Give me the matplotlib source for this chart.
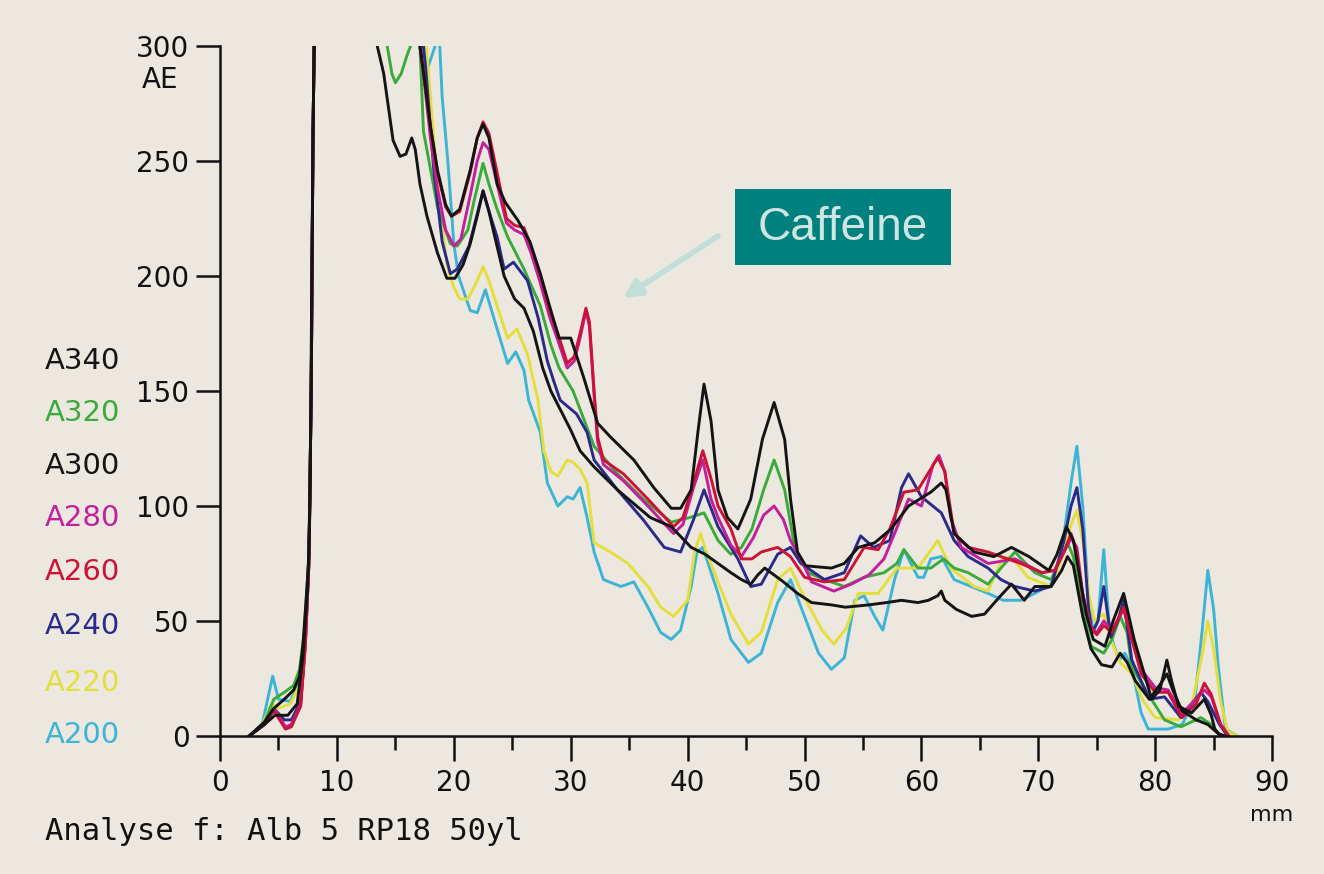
import matplotlib.pyplot as plt

# Densitogram traces, position in mm and signal in AE (values above 300 run off the plot)
a200_mm = [2.5, 3.6, 4.5, 5.0, 6.0, 6.8, 7.2, 7.6, 7.8, 7.95, 8.1,
           17.0, 17.3, 17.8, 18.4, 18.7, 19.0, 19.5, 20.0, 20.4, 21.4, 22.0, 22.7, 23.7,
           24.6, 25.3, 26.0, 26.4, 27.4, 28.0, 28.9, 29.7, 30.2, 30.8, 31.4, 32.0, 32.8,
           34.3, 35.4, 36.6, 37.7, 38.6, 39.4, 40.3, 40.8, 41.3, 42.6, 43.7, 45.2, 46.3,
           47.7, 48.8, 50.0, 51.2, 52.3, 53.4, 54.3, 55.1, 56.0, 56.7, 57.7, 58.5, 59.7,
           60.2, 60.8, 61.7, 62.8, 65.7, 67.0, 68.5, 69.7, 71.1, 72.0, 72.8, 73.3, 73.8,
           74.3, 74.7, 75.1, 75.6, 76.1, 76.9, 77.4, 78.0, 78.8, 79.4, 81.1, 82.3, 83.4,
           84.0, 84.5, 85.0, 85.4, 86.0, 87.0]
a200_ae = [0, 5, 26, 16, 15, 24, 40, 75, 150, 260, 320,
           310, 298, 291, 300, 310, 278, 249, 214, 200, 185, 184, 194, 177,
           162, 167, 159, 146, 132, 110, 100, 104, 103, 108, 95, 80, 68,
           65, 67, 56, 45, 42, 46, 65, 80, 82, 62, 42, 32, 36,
           58, 68, 52, 36, 29, 34, 59, 61, 52, 46, 68, 81, 69,
           69, 77, 78, 68, 62, 59, 59, 62, 66, 80, 110, 126, 100,
           59, 45, 50, 81, 45, 33, 36, 30, 10, 3, 3, 5, 16,
           45, 72, 55, 30, 3, 0]

a220_mm = [2.5, 3.6, 4.4, 5.0, 6.0, 6.8, 7.2, 7.6, 7.8, 7.95, 8.1,
           17.3, 17.8, 18.6, 19.4, 20.0, 20.5, 21.2, 22.0, 22.5, 23.0, 23.7, 24.6, 25.4,
           26.3, 27.2, 27.7, 28.3, 28.9, 29.7, 30.2, 30.8, 31.4, 32.0, 33.4, 34.9, 36.6,
           37.7, 38.8, 40.0, 40.6, 41.1, 41.6, 42.6, 43.7, 45.2, 46.3, 47.7, 48.8, 50.0,
           51.5, 52.5, 53.6, 54.6, 56.3, 57.9, 59.7, 61.4, 62.5, 64.5, 65.7, 66.9, 67.7,
           69.1, 71.1, 72.2, 72.8, 73.3, 73.8, 74.3, 74.8, 75.6, 76.2, 77.0, 78.0, 79.0,
           80.0, 82.0, 83.2, 84.0, 84.5, 85.0, 85.6, 86.2, 87.0]
a220_ae = [0, 5, 14, 12, 14, 22, 40, 75, 150, 260, 320,
           320, 290, 240, 205, 195, 190, 190, 198, 204, 198, 187, 173, 177,
           166, 146, 124, 115, 113, 120, 119, 116, 110, 84, 80, 75, 65,
           56, 52, 59, 80, 88, 80, 67, 53, 40, 45, 68, 73, 60,
           46, 40, 47, 62, 62, 73, 73, 85, 73, 65, 63, 77, 78,
           69, 65, 80, 92, 98, 85, 62, 50, 53, 42, 32, 27, 15,
           8, 7, 15, 35, 50, 38, 15, 2, 0]

a240_mm = [2.5, 3.8, 4.6, 5.5, 6.1, 6.9, 7.3, 7.6, 7.8, 7.95, 8.1,
           17.0, 17.6, 18.3, 19.0, 19.7, 20.3, 21.3, 22.5, 23.2, 23.7, 24.3, 25.1, 26.3,
           27.2, 28.0, 28.5, 29.1, 30.5, 31.4, 32.0, 34.0, 36.2, 38.0, 39.4, 40.5, 41.4,
           42.6, 44.3, 45.4, 46.3, 47.7, 48.8, 49.7, 51.7, 53.4, 54.8, 55.9, 57.3, 58.3,
           58.9, 60.0, 61.7, 62.8, 64.0, 65.7, 66.8, 68.0, 69.7, 71.1, 72.2, 72.8, 73.3,
           73.8, 74.3, 74.6, 75.1, 75.6, 76.2, 76.8, 77.3, 78.0, 79.5, 80.8, 82.2, 83.9,
           84.5, 85.5, 86.2]
a240_ae = [0, 6, 12, 7, 7, 15, 40, 75, 150, 260, 320,
           320, 290, 245, 215, 201, 203, 213, 237, 225, 217, 203, 206, 198,
           182, 163, 155, 146, 140, 132, 120, 107, 94, 82, 80, 94, 107,
           91, 77, 65, 66, 79, 82, 75, 68, 71, 87, 82, 85, 108,
           114, 104, 97, 85, 78, 73, 68, 65, 63, 65, 85, 100, 108,
           90, 55, 45, 50, 65, 43, 50, 59, 33, 16, 17, 8, 19,
           15, 5, 0]

a260_mm = [2.5, 3.8, 4.6, 5.6, 6.1, 6.9, 7.3, 7.6, 7.8, 7.95, 8.1,
           16.9, 17.1, 17.5, 18.0, 18.6, 19.3, 19.8, 20.5, 21.4, 22.0, 22.5, 23.0, 23.7,
           24.5, 25.2, 26.0, 26.6, 27.4, 28.2, 28.9, 29.7, 30.3, 30.8, 31.3, 31.6, 32.0,
           32.3, 32.8, 34.5, 36.6, 38.8, 39.6, 40.5, 41.3, 42.0, 42.6, 43.7, 44.6, 45.5,
           46.3, 47.7, 48.8, 50.0, 51.7, 53.4, 55.1, 56.3, 57.3, 58.5, 59.7, 61.4, 62.0,
           62.8, 64.0, 65.7, 66.8, 68.5, 70.3, 71.4, 72.2, 72.8, 73.3, 73.8, 74.5, 75.0,
           75.6, 76.3, 77.3, 78.0, 78.8, 80.0, 81.1, 82.3, 83.5, 84.2, 84.8, 85.6, 86.3]
a260_ae = [0, 5, 11, 3, 4, 13, 40, 75, 150, 260, 320,
           320, 300, 285, 265, 245, 230, 226, 228, 245, 260, 267, 262, 245,
           225, 222, 221, 213, 200, 185, 175, 162, 165, 175, 186, 180, 150,
           130, 120, 114, 103, 91, 95, 110, 124, 112, 100, 90, 77, 77,
           80, 82, 78, 69, 67, 68, 82, 81, 90, 106, 107, 121, 115,
           88, 82, 80, 78, 75, 71, 72, 80, 88, 80, 60, 47, 44,
           48, 45, 56, 42, 27, 19, 19, 8, 14, 23, 18, 5, 0]

a280_mm = [2.5, 3.8, 4.6, 5.6, 6.1, 6.9, 7.3, 7.6, 7.8, 7.95, 8.1,
           16.9, 17.1, 17.5, 18.0, 18.6, 19.3, 20.0, 20.6, 21.4, 22.0, 22.5, 23.0, 23.7,
           24.5, 25.2, 26.0, 26.6, 27.4, 28.2, 28.9, 29.7, 30.3, 30.8, 31.3, 31.6, 32.0,
           32.3, 32.8, 34.5, 36.6, 38.8, 39.6, 40.5, 41.3, 42.0, 42.6, 43.7, 44.6, 45.6,
           46.5, 47.4, 48.2, 48.8, 49.7, 50.6, 52.5, 54.0, 55.5, 56.8, 57.7, 58.9, 60.0,
           61.0, 61.5, 62.0, 62.5, 63.4, 65.7, 68.0, 70.3, 71.4, 72.2, 72.8, 73.3, 73.8,
           74.5, 75.0, 75.6, 76.3, 77.3, 78.0, 78.8, 80.0, 81.1, 82.3, 83.5, 84.2, 84.8,
           85.6, 86.3]
a280_ae = [0, 5, 12, 4, 5, 14, 40, 75, 150, 260, 320,
           320, 300, 283, 260, 238, 220, 213, 216, 235, 250, 258, 255, 240,
           223, 220, 218, 210, 197, 182, 172, 160, 163, 173, 185, 178, 148,
           128, 118, 111, 100, 88, 92, 108, 120, 103, 95, 83, 78, 86,
           96, 100, 94, 85, 77, 67, 63, 66, 70, 77, 88, 103, 100,
           118, 122, 115, 95, 82, 75, 77, 71, 72, 80, 86, 82, 62,
           47, 45, 50, 46, 55, 42, 29, 21, 20, 10, 16, 20, 17,
           5, 0]

a300_mm = [2.5, 3.8, 4.7, 5.8, 6.6, 7.1, 7.5, 7.7, 7.85, 7.95, 8.1,
           16.9, 17.1, 17.5, 18.0, 18.6, 19.3, 19.8, 20.5, 21.4, 22.0, 22.5, 23.0, 23.7,
           24.4, 25.5, 26.5, 27.4, 28.3, 29.0, 30.0, 31.1, 32.3, 33.4, 35.4, 37.1, 38.6,
           39.4, 40.3, 40.9, 41.4, 42.0, 42.6, 43.4, 44.3, 45.4, 46.4, 47.4, 48.3, 48.8,
           49.4, 50.1, 52.3, 53.4, 54.6, 56.0, 57.4, 58.9, 60.8, 61.7, 62.1, 62.8, 64.5,
           66.2, 67.7, 69.2, 70.9, 71.6, 72.4, 73.0, 74.1, 74.7, 75.7, 76.4, 77.3, 78.2,
           79.7, 80.4, 81.0, 81.4, 82.0, 83.1, 84.2, 84.8, 85.1, 85.6]
a300_ae = [0, 5, 9, 9, 14, 35, 65, 100, 200, 260, 320,
           320, 300, 285, 265, 246, 231, 226, 229, 246, 260, 266, 260, 240,
           232, 224, 215, 201, 185, 173, 173, 156, 136, 130, 120, 108, 99,
           99, 107, 133, 153, 137, 107, 95, 90, 103, 129, 145, 129, 103,
           80, 74, 73, 75, 82, 84, 90, 100, 106, 110, 107, 88, 80,
           78, 82, 78, 72, 79, 91, 85, 53, 42, 39, 50, 62, 42,
           16, 20, 33, 24, 13, 10, 16, 9, 3, 0]

a320_mm = [2.5, 3.8, 4.6, 5.5, 6.3, 6.8, 7.2, 7.6, 7.8, 7.95, 8.1,
           14.0, 14.3, 14.7, 15.0, 15.5, 16.0, 16.3, 16.5, 16.9, 17.1, 17.4, 18.6, 19.7,
           20.3, 21.2, 21.7, 22.5, 23.0, 23.7, 24.6, 26.0, 27.4, 28.3, 29.0, 30.2, 31.4,
           32.0, 34.0, 36.2, 38.6, 40.2, 41.4, 42.6, 43.7, 44.6, 45.5, 46.5, 47.4, 48.3,
           49.2, 50.3, 51.7, 53.4, 55.1, 56.8, 57.9, 58.5, 59.7, 60.8, 61.9, 62.8, 64.0,
           65.7, 66.8, 68.0, 69.7, 71.1, 72.0, 72.5, 73.0, 73.8, 74.5, 75.6, 76.3, 77.0,
           77.6, 78.0, 79.3, 80.8, 82.2, 83.9, 84.8, 85.6]
a320_ae = [0, 6, 16, 19, 22, 29, 45, 78, 150, 260, 320,
           320, 300, 288, 284, 288, 296, 300, 320, 320, 300, 263, 230, 214,
           213, 220, 232, 249, 240, 229, 217, 203, 187, 170, 160, 150, 134,
           126, 114, 103, 93, 95, 97, 85, 79, 82, 90, 107, 120, 107,
           81, 71, 68, 65, 69, 71, 75, 81, 73, 73, 77, 73, 71,
           66, 73, 80, 71, 68, 78, 84, 78, 55, 39, 36, 42, 52,
           45, 30, 19, 7, 4, 8, 5, 0]

a340_mm = [2.5, 3.8, 4.6, 5.5, 6.3, 6.8, 7.1, 7.4, 7.6, 7.8, 7.95, 8.1,
           13.3, 13.45, 14.0, 14.8, 15.4, 15.9, 16.4, 16.7, 17.1, 17.7, 18.6, 19.4, 20.1,
           20.8, 21.4, 22.0, 22.5, 23.0, 23.6, 24.3, 25.2, 26.0, 26.8, 27.6, 28.3, 29.1,
           30.0, 30.8, 32.0, 34.0, 36.8, 38.6, 40.3, 41.5, 42.6, 43.7, 44.6, 45.4, 46.0,
           46.6, 47.4, 48.2, 49.4, 50.6, 52.3, 53.5, 55.5, 57.0, 58.3, 59.7, 60.6, 61.4,
           61.7, 62.0, 63.0, 64.3, 65.4, 66.6, 67.7, 68.8, 69.7, 71.1, 72.0, 72.5, 73.0,
           73.8, 74.5, 75.4, 76.3, 77.0, 77.6, 78.3, 79.5, 80.5, 81.0, 81.5, 82.3, 83.5,
           84.5, 85.4, 86.0]
a340_ae = [0, 6, 12, 16, 20, 26, 40, 62, 78, 150, 260, 320,
           320, 300, 288, 259, 252, 253, 260, 255, 240, 226, 210, 199, 199,
           205, 214, 226, 237, 228, 215, 200, 190, 186, 176, 160, 150, 142,
           133, 124, 117, 107, 95, 91, 82, 79, 75, 71, 68, 66, 70,
           73, 70, 67, 62, 58, 57, 56, 57, 58, 59, 58, 59, 61,
           63, 59, 55, 52, 53, 60, 66, 59, 65, 65, 72, 78, 74,
           52, 38, 31, 30, 36, 32, 24, 16, 23, 27, 20, 11, 7,
           5, 1, 0]

trace_labels = ["A340", "A320", "A300", "A280", "A260", "A240", "A220", "A200"]
trace_colors = ["#141414", "#3aaa3a", "#141414", "#c21f9c", "#cc1236", "#2a2a8a", "#e4de3c", "#3cb4d6"]

x_ticks = [0, 10, 20, 30, 40, 50, 60, 70, 80, 90]
y_ticks = [0, 50, 100, 150, 200, 250, 300]

bg = "#ece8df"
fig = plt.figure(figsize=(13.24, 8.74), dpi=100, facecolor=bg)
ax = fig.add_axes([0.1662, 0.1579, 0.7946, 0.7895], facecolor=bg)

series = {
    "A200": (a200_mm, a200_ae),
    "A220": (a220_mm, a220_ae),
    "A320": (a320_mm, a320_ae),
    "A240": (a240_mm, a240_ae),
    "A280": (a280_mm, a280_ae),
    "A260": (a260_mm, a260_ae),
    "A340": (a340_mm, a340_ae),
    "A300": (a300_mm, a300_ae),
}
color_of = dict(zip(trace_labels, trace_colors))
for name, (xs, ys) in series.items():
    ax.plot(xs, ys, color=color_of[name], lw=2.1, solid_joinstyle="round")

ax.set_xlim(0, 90)
ax.set_ylim(0, 300)
for s in ["top", "right"]:
    ax.spines[s].set_visible(False)
for s in ["left", "bottom"]:
    ax.spines[s].set_linewidth(1.8)
    ax.spines[s].set_color("#111111")

ax.set_xticks(x_ticks)
ax.set_xticks([5, 15, 25, 35, 45, 55, 65, 75, 85], minor=True)
ax.set_yticks(y_ticks)
ax.tick_params(axis="x", which="major", direction="out", length=18, width=1.8,
               labelsize=20, pad=6, colors="#111111")
ax.tick_params(axis="x", which="minor", direction="out", length=10, width=1.8, colors="#111111")
ax.tick_params(axis="y", direction="out", length=17, width=1.8, labelsize=20, pad=5,
               colors="#111111")

fig.text(160 / 1324, 1 - 80 / 874, "AE", fontsize=20, ha="center", va="center", color="#111111")
fig.text(1272 / 1324, 1 - 815 / 874, "mm", fontsize=16, ha="center", va="center", color="#111111")
fig.text(45 / 1324, 1 - 832 / 874, "Analyse f: Alb 5 RP18 50yl", fontsize=22,
         family="DejaVu Sans Mono", ha="left", va="center", color="#111111")

label_y = [361, 413, 466, 518, 572, 626, 683, 735]
for lab, col, py in zip(trace_labels, trace_colors, label_y):
    fig.text(45 / 1324, 1 - py / 874, lab, fontsize=21, ha="left", va="center", color=col)

# Caffeine call-out
box = plt.Rectangle((735 / 1324, 1 - 265 / 874), 216 / 1324, 76 / 874,
                    transform=fig.transFigure, facecolor="#00807e", edgecolor="none")
fig.patches.append(box)
fig.text(843 / 1324, 1 - 228 / 874, "Caffeine", fontsize=33, family="Liberation Sans",
         color="#cfe5e0", ha="center", va="center")
ax.annotate("", xy=(623 / 1324, 1 - 298 / 874), xytext=(718 / 1324, 1 - 236 / 874),
            xycoords="figure fraction", textcoords="figure fraction",
            arrowprops=dict(arrowstyle="-|>", color="#c2ded9", lw=4, mutation_scale=26,
                            shrinkA=0, shrinkB=0))

fig.savefig("out.png", dpi=100, facecolor=bg)
